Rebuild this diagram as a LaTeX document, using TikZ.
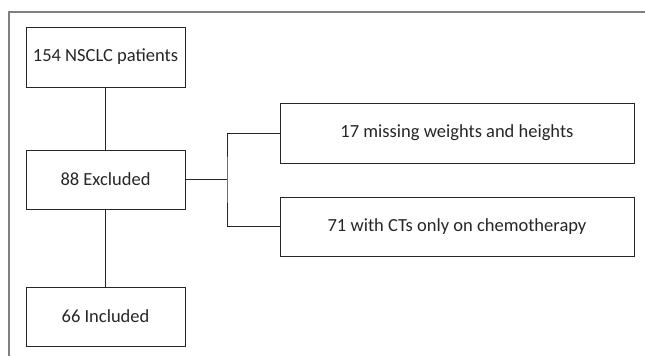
\documentclass[tikz,border=0pt]{standalone}
\usepackage{fontspec}
\setmainfont{Carlito}

\tikzset{
  box/.style={draw=black!85, line width=0.9pt, minimum height=59pt, inner sep=0pt, font=\fontsize{18.5}{20}\selectfont, text=black!85},
  smallbox/.style={box, minimum width=159pt},
  widebox/.style={box, minimum width=354pt},
  link/.style={draw=black!85, line width=0.9pt}
}

\begin{document}
\begin{tikzpicture}[x=1pt, y=-1pt]
\useasboundingbox (0,0) rectangle (645,356);

% frame (top and left only)
\draw[gray, line width=1.2pt] (645,12) -| (9,356);

\node[smallbox, minimum height=60pt] (patients) at (105.5,57) {154 NSCLC patients};
\node[smallbox] (excluded) at (105.5,179.5) {88 Excluded};
\node[smallbox] (included) at (105.5,316.5) {66 Included};

\node[widebox, minimum height=60pt] (missing) at (457,133) {17 missing weights and heights};
\node[widebox] (chemo) at (457,226.5) {71 with CTs only on chemotherapy};

\draw[link] (patients) -- (excluded);
\draw[link] (excluded) -- (included);

\coordinate (split) at (227,179.5);
\draw[link] (excluded.east) -- (split);
\draw[link] (missing.west) -| (split) |- (chemo.west);
\end{tikzpicture}
\end{document}
